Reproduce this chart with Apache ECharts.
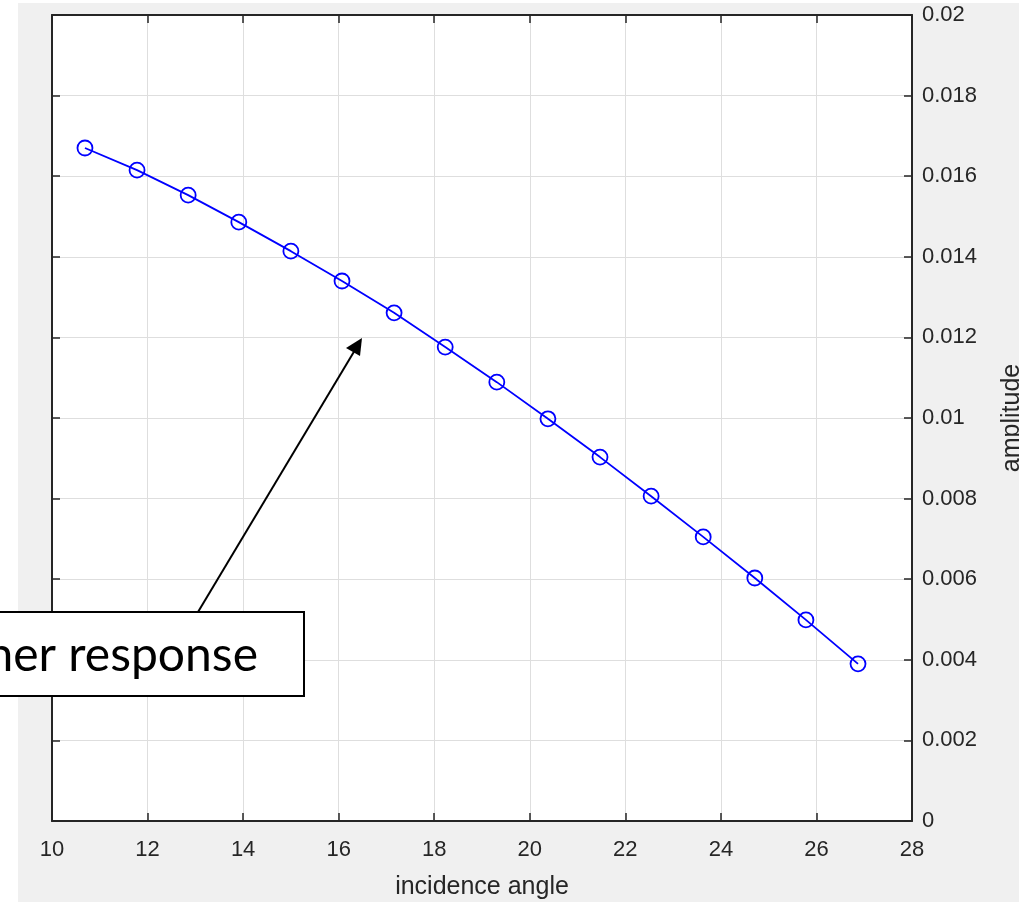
<!DOCTYPE html>
<html>
<head>
<meta charset="utf-8">
<script src="https://cdn.jsdelivr.net/npm/echarts@6/dist/echarts.min.js"></script>
<style>
  html, body { margin: 0; padding: 0; background: #ffffff; }
  #main { width: 1019px; height: 902px; }
</style>
</head>
<body>
<div id="main"></div>
<script>
// incidence angle (deg) and amplitude
var angles = [10.69, 11.78, 12.85, 13.91, 15.0, 16.07, 17.16, 18.23, 19.31, 20.38, 21.47, 22.54, 23.63, 24.71, 25.78, 26.87];
var amplitude = [0.0167, 0.01615, 0.01553, 0.01486, 0.01414, 0.0134, 0.01261, 0.01176, 0.01089, 0.00998, 0.00903, 0.00806, 0.00705, 0.00603, 0.00499, 0.0039];
var xTicks = [10, 28, 2];
var yTicks = [0, 0.02, 0.002];

var chart = echarts.init(document.getElementById("main"));

var points = angles.map(function (a, i) {
  return [a, amplitude[i]];
});

var tickColor = "#262626";
var font = "'Liberation Sans', Arial, sans-serif";

// shared look of the box axes (MATLAB style, ticks inside)
var boxLine = { show: true, onZero: false, lineStyle: { color: "#262626", width: 2 } };
var boxTick = { show: true, inside: true, length: 8, lineStyle: { color: "#262626", width: 1.5 } };
var grid = { show: true, lineStyle: { color: "#dedede", width: 1 } };

var option = {
  animation: false,
  backgroundColor: "#ffffff",
  grid: {
    left: 52,
    right: 107,
    top: 15,
    bottom: 81,
    outerBoundsMode: "none",
    containLabel: false,
    show: true,
    backgroundColor: "#ffffff",
    borderWidth: 0,
    z: -1
  },
  xAxis: [
    {
      type: "value",
      min: xTicks[0],
      max: xTicks[1],
      interval: xTicks[2],
      name: "incidence angle",
      nameLocation: "middle",
      nameGap: 54,
      nameTextStyle: { fontSize: 25, color: tickColor, fontFamily: font },
      axisLine: boxLine,
      axisTick: boxTick,
      axisLabel: { fontSize: 22, color: tickColor, fontFamily: font, margin: 18 },
      splitLine: grid
    },
    {
      type: "value",
      position: "top",
      min: xTicks[0],
      max: xTicks[1],
      interval: xTicks[2],
      axisLine: boxLine,
      axisTick: boxTick,
      axisLabel: { show: false },
      splitLine: { show: false }
    }
  ],
  yAxis: [
    {
      type: "value",
      position: "right",
      min: yTicks[0],
      max: yTicks[1],
      interval: yTicks[2],
      name: "amplitude",
      nameLocation: "middle",
      nameRotate: 90,
      nameGap: 88,
      nameTextStyle: { fontSize: 25, color: tickColor, fontFamily: font },
      axisLine: boxLine,
      axisTick: boxTick,
      axisLabel: { fontSize: 22, color: tickColor, fontFamily: font, margin: 10 },
      splitLine: grid
    },
    {
      type: "value",
      position: "left",
      min: yTicks[0],
      max: yTicks[1],
      interval: yTicks[2],
      axisLine: boxLine,
      axisTick: boxTick,
      axisLabel: { show: false },
      splitLine: { show: false }
    }
  ],
  series: [
    {
      type: "line",
      data: points,
      xAxisIndex: 0,
      yAxisIndex: 0,
      symbol: "circle",
      symbolSize: 15,
      showAllSymbol: true,
      lineStyle: { color: "#0000ff", width: 1.8 },
      itemStyle: { color: "rgba(0,0,0,0)", borderColor: "#0000ff", borderWidth: 1.8 },
      z: 5
    }
  ],
  graphic: [
    {
      // grey figure background
      type: "rect",
      shape: { x: 18, y: 3, width: 1001, height: 899 },
      style: { fill: "#f0f0f0" },
      z: -10,
      silent: true
    },
    {
      type: "line",
      shape: { x1: 198, y1: 612, x2: 355, y2: 350 },
      style: { stroke: "#000000", lineWidth: 2 },
      z: 100
    },
    {
      type: "polygon",
      shape: { points: [[362, 338], [346, 348], [360, 356]] },
      style: { fill: "#000000" },
      z: 100
    },
    {
      type: "rect",
      shape: { x: -10, y: 612, width: 314, height: 84 },
      style: { fill: "#ffffff", stroke: "#000000", lineWidth: 2 },
      z: 100
    },
    {
      type: "text",
      x: 258,
      y: 656,
      style: {
        text: "her response",
        fontSize: 48,
        fontFamily: "Lato, 'Open Sans', sans-serif",
        fill: "#000000",
        textAlign: "right",
        textVerticalAlign: "middle"
      },
      z: 101
    }
  ]
};

chart.setOption(option);
</script>
</body>
</html>
